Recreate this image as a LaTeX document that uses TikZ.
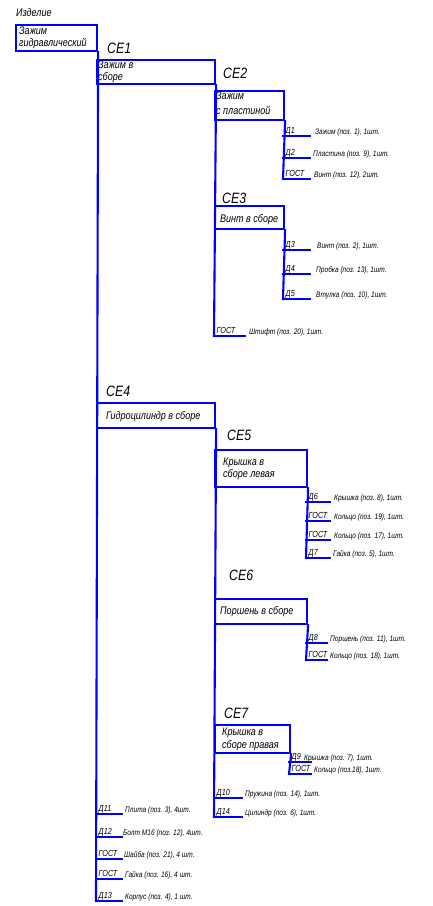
\documentclass[tikz,border=0pt]{standalone}
\usepackage{fontspec}
\newfontfamily\gost{Liberation Sans}[FakeStretch=0.82]
\newcommand\leafitem[7]{%
  \coordinate (#1s) at (#2,#4);
  \coordinate (#1) at (#3,#4);
  \draw[ln] (#1s) -- (#1);
  \node[cd] (#1c) at (#2+2.5,#4-2.8) {#5};
  \node[sm] (#1t) at (#6,#4-1.5) {#7};
}
\begin{document}
\begin{tikzpicture}[x=1pt,y=-1pt,
  ln/.style={draw=blue, line width=2.1pt, line cap=rect},
  bx/.style={draw=blue, line width=2.1pt, rectangle, inner sep=0pt, anchor=north west},
  sm/.style={font=\gost\itshape\fontsize{8}{9}\selectfont, inner sep=0pt, anchor=base west},
  cd/.style={font=\gost\itshape\fontsize{8.8}{9}\selectfont, inner sep=0pt, anchor=base west},
  bt/.style={font=\gost\itshape\fontsize{11}{12}\selectfont, inner sep=0pt, anchor=base west},
  ce/.style={font=\gost\itshape\fontsize{15}{16}\selectfont, inner sep=0pt, anchor=base west},
]
\useasboundingbox (0,0) rectangle (432,906);

% boxes
\node[bx, minimum width=81pt, minimum height=26pt] (b0) at (15,24) {};
\node[bx, minimum width=118pt, minimum height=24pt] (b1) at (96,59) {};
\node[bx, minimum width=69pt, minimum height=29pt] (b2) at (214,90) {};
\node[bx, minimum width=69pt, minimum height=23pt] (b3) at (214,205) {};
\node[bx, minimum width=118pt, minimum height=25pt] (b4) at (96,402) {};
\node[bx, minimum width=92pt, minimum height=37pt] (b5) at (214,449) {};
\node[bx, minimum width=92pt, minimum height=25pt] (b6) at (214,598) {};
\node[bx, minimum width=75pt, minimum height=28pt] (b7) at (214,724) {};

% box texts
\node[bt] (lbl0) at (16,16) {Изделие};
\node[bt] (t0a) at (19,34.5) {Зажим};
\node[bt] (t0b) at (19,46) {гидравлический};
\node[bt] (t1a) at (98,68.5) {Зажим в};
\node[bt] (t1b) at (98,80) {сборе};
\node[bt] (t2a) at (216,99.5) {Зажим};
\node[bt] (t2b) at (216,114) {с пластиной};
\node[bt] (t3) at (220,222) {Винт в сборе};
\node[bt] (t4) at (106,419) {Гидроцилиндр в сборе};
\node[bt] (t5a) at (223,465) {Крышка в};
\node[bt] (t5b) at (223,477) {сборе левая};
\node[bt] (t6) at (220,614) {Поршень в сборе};
\node[bt] (t7a) at (222,735) {Крышка в};
\node[bt] (t7b) at (222,748) {сборе правая};

% CE labels
\node[ce] (ce1) at (107,53) {СЕ1};
\node[ce] (ce2) at (223,78) {СЕ2};
\node[ce] (ce3) at (222,203) {СЕ3};
\node[ce] (ce4) at (106,396) {СЕ4};
\node[ce] (ce5) at (227,440) {СЕ5};
\node[ce] (ce6) at (229,580) {СЕ6};
\node[ce] (ce7) at (224,718) {СЕ7};

% leaves
\leafitem{d1}{283}{310}{136}{Д1}{315}{Зажим (поз. 1), 1шт.}
\leafitem{d2}{283}{310}{158}{Д2}{313}{Пластина (поз. 9), 1шт.}
\leafitem{g1}{283}{310}{179}{ГОСТ}{314}{Винт (поз. 12), 2шт.}
\leafitem{d3}{283}{310}{250}{Д3}{317}{Винт (поз. 2), 1шт.}
\leafitem{d4}{283}{310}{274}{Д4}{316}{Пробка (поз. 13), 1шт.}
\leafitem{d5}{283}{310}{299}{Д5}{316}{Втулка (поз. 10), 1шт.}
\leafitem{g2}{214}{245}{336}{ГОСТ}{249}{Штифт (поз. 20), 1шт.}
\leafitem{d6}{306}{330}{502}{Д6}{334}{Крышка (поз. 8), 1шт.}
\leafitem{g3}{306}{330}{521}{ГОСТ}{334}{Кольцо (поз. 19), 1шт.}
\leafitem{g4}{306}{330}{540}{ГОСТ}{334}{Кольцо (поз. 17), 1шт.}
\leafitem{d7}{306}{330}{558}{Д7}{333}{Гайка (поз. 5), 1шт.}
\leafitem{d8}{306}{327}{643}{Д8}{330}{Поршень (поз. 11), 1шт.}
\leafitem{g5}{306}{327}{660}{ГОСТ}{330}{Кольцо (поз. 18), 1шт.}
\leafitem{d9}{289}{311}{762}{Д9}{304}{Крышка (поз. 7), 1шт.}
\leafitem{g6}{289}{311}{774}{ГОСТ}{314}{Кольцо (поз.18), 1шт.}
\leafitem{d10}{214}{242}{798}{Д10}{245}{Пружина (поз. 14), 1шт.}
\leafitem{d14}{214}{242}{817}{Д14}{245}{Цилиндр (поз. 6), 1шт.}
\leafitem{d11}{96}{122}{814}{Д11}{125}{Плита (поз. 3), 4шт.}
\leafitem{d12}{96}{122}{837}{Д12}{123}{Болт М16 (поз. 12), 4шт.}
\leafitem{g7}{96}{122}{859}{ГОСТ}{124}{Шайба (поз. 21), 4 шт.}
\leafitem{g8}{96}{122}{879}{ГОСТ}{125}{Гайка (поз. 16), 4 шт.}
\leafitem{d13}{96}{122}{901}{Д13}{125}{Корпус (поз. 4), 1 шт.}

% verticals
\draw[ln] (b0.south east) -- (d13s);
\draw[ln] (b1.south east) -- (g2s);
\draw[ln] (b2.south east) -- (g1s);
\draw[ln] (b3.south east) -- (d5s);
\draw[ln] (b4.south east) -- (d14s);
\draw[ln] (b5.south east) -- (d7s);
\draw[ln] (b6.south east) -- (g5s);
\draw[ln] (b7.south east) -- (g6s);
\end{tikzpicture}
\end{document}
